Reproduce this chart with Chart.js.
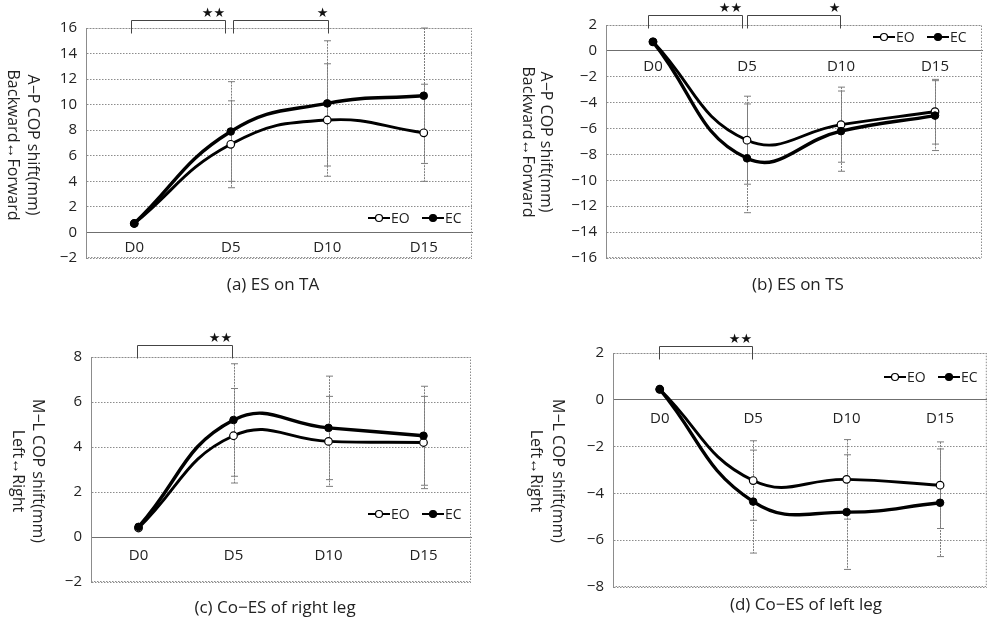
<!DOCTYPE html>
<html>
<head>
<meta charset="utf-8">
<script src="https://cdn.jsdelivr.net/npm/chart.js@4.4.0/dist/chart.umd.min.js"></script>
<style>
  body { margin: 0; background: #fff; width: 992px; height: 620px; overflow: hidden; position: relative; }
  canvas { position: absolute; }
</style>
</head>
<body>
<canvas id="cA" width="496" height="300" style="left:0;top:0"></canvas>
<canvas id="cB" width="496" height="300" style="left:496px;top:0"></canvas>
<canvas id="cC" width="496" height="320" style="left:0;top:300px"></canvas>
<canvas id="cD" width="496" height="320" style="left:496px;top:300px"></canvas>
<script>
const days = ['D0', 'D5', 'D10', 'D15'];

// (a) ES on TA
const eoA = [0.7, 6.9, 8.8, 7.8];
const ecA = [0.7, 7.9, 10.1, 10.7];
const eoErrA = [0, 3.4, 4.4, 3.8];
const ecErrA = [0, 3.9, 4.9, 5.3];
const yTicksA = [-2, 0, 2, 4, 6, 8, 10, 12, 14, 16];

// (b) ES on TS
const eoB = [0.7, -6.9, -5.7, -4.7];
const ecB = [0.7, -8.3, -6.2, -5.0];
const eoErrB = [0, 3.4, 2.9, 2.5];
const ecErrB = [0, 4.2, 3.1, 2.7];
const yTicksB = [-16, -14, -12, -10, -8, -6, -4, -2, 0, 2];

// (c) Co-ES of right leg
const eoC = [0.4, 4.5, 4.25, 4.2];
const ecC = [0.45, 5.2, 4.85, 4.5];
const eoErrC = [0, 2.1, 2.0, 2.05];
const ecErrC = [0, 2.5, 2.3, 2.2];
const yTicksC = [-2, 0, 2, 4, 6, 8];

// (d) Co-ES of left leg
const eoD = [0.45, -3.45, -3.4, -3.65];
const ecD = [0.45, -4.35, -4.8, -4.4];
const eoErrD = [0, 1.7, 1.7, 1.85];
const ecErrD = [0, 2.2, 2.45, 2.3];
const yTicksD = [-8, -6, -4, -2, 0, 2];

const FONT = '"Open Sans", "Noto Sans", sans-serif';
const GRID = '#8c8c8c';

const extras = {
  id: 'extras',
  beforeDraw(chart) {
    const ctx = chart.ctx;
    ctx.save();
    ctx.fillStyle = '#fff';
    ctx.fillRect(0, 0, chart.width, chart.height);
    ctx.restore();
  },
  beforeDatasetsDraw(chart) {
    const { ctx, chartArea: a, scales: { x, y } } = chart;
    ctx.save();
    ctx.strokeStyle = GRID;
    ctx.lineWidth = 1;
    ctx.setLineDash([1.5, 1.5]);
    ctx.strokeRect(a.left + 0.5, a.top + 0.5, a.width - 1, a.height - 1);
    ctx.strokeStyle = '#7d7d7d';
    chart.data.datasets.forEach(ds => {
      ds.errors.forEach((e, i) => {
        if (!e) return;
        const px = Math.round(x.getPixelForValue(i)) + 0.5;
        const hi = y.getPixelForValue(ds.data[i] + e);
        const lo = y.getPixelForValue(ds.data[i] - e);
        ctx.setLineDash([2, 1]);
        ctx.beginPath();
        ctx.moveTo(px, hi); ctx.lineTo(px, lo);
        ctx.stroke();
        ctx.setLineDash([]);
        ctx.beginPath();
        ctx.moveTo(px - 3.5, hi); ctx.lineTo(px + 3.5, hi);
        ctx.moveTo(px - 3.5, lo); ctx.lineTo(px + 3.5, lo);
        ctx.stroke();
      });
    });
    ctx.restore();
  },
  afterDraw(chart, args, o) {
    const { ctx, scales: { x } } = chart;
    ctx.save();
    ctx.fillStyle = '#222';

    // panel caption
    ctx.font = '17px ' + FONT;
    ctx.textAlign = 'center';
    ctx.textBaseline = 'middle';
    ctx.fillText(o.caption, o.captionX, o.captionY);

    // y axis title, two lines turned clockwise
    ctx.font = '16px ' + FONT;
    o.yTitle.forEach((t, i) => {
      ctx.save();
      ctx.translate(o.yTitleX[i], o.yTitleY);
      ctx.rotate(Math.PI / 2);
      ctx.fillText(t, 0, 0);
      ctx.restore();
    });

    // legend
    const lx = o.legendX, ly = o.legendY;
    ctx.font = '14px ' + FONT;
    ctx.textAlign = 'left';
    [['EO', '#fff', 0], ['EC', '#000', 54]].forEach(([name, fill, dx]) => {
      ctx.strokeStyle = '#000';
      ctx.lineWidth = 2;
      ctx.beginPath();
      ctx.moveTo(lx + dx, ly); ctx.lineTo(lx + dx + 22, ly);
      ctx.stroke();
      ctx.beginPath();
      ctx.arc(lx + dx + 11, ly, 3.5, 0, Math.PI * 2);
      ctx.fillStyle = fill;
      ctx.fill();
      ctx.lineWidth = 1.2;
      ctx.stroke();
      ctx.fillStyle = '#222';
      ctx.fillText(name, lx + dx + 23, ly + 1);
    });

    // significance brackets
    ctx.strokeStyle = '#444';
    ctx.lineWidth = 1;
    ctx.font = '13px "DejaVu Sans", sans-serif';
    ctx.textAlign = 'center';
    o.brackets.forEach(b => {
      const x0 = Math.round(x.getPixelForValue(b.from) + b.dx0) + 0.5;
      const x1 = Math.round(x.getPixelForValue(b.to) + b.dx1) + 0.5;
      const top = o.bracketTop + 0.5, bot = top + 13;
      ctx.beginPath();
      ctx.moveTo(x0, bot); ctx.lineTo(x0, top); ctx.lineTo(x1, top); ctx.lineTo(x1, bot);
      ctx.stroke();
      ctx.fillStyle = '#111';
      ctx.fillText(b.stars, x1 - 6 * b.stars.length, top - 7);
    });
    ctx.restore();
  }
};

function makeChart(id, eo, ec, eoErr, ecErr, ticks, area, xPad, extra) {
  const canvas = document.getElementById(id);
  return new Chart(canvas, {
    type: 'line',
    data: {
      labels: days,
      datasets: [
        {
          label: 'EC', data: ec, errors: ecErr, order: 0,
          borderColor: '#000', borderWidth: 3.4, backgroundColor: '#000',
          pointRadius: 3.8, pointBorderWidth: 1, pointBackgroundColor: '#000',
          tension: 0.45
        },
        {
          label: 'EO', data: eo, errors: eoErr, order: 1,
          borderColor: '#000', borderWidth: 2.9, backgroundColor: '#fff',
          pointRadius: 3.8, pointBorderWidth: 1.2, pointBackgroundColor: '#fff',
          tension: 0.45
        }
      ]
    },
    options: {
      responsive: false,
      animation: false,
      layout: {
        padding: {
          left: 0,
          top: area.top,
          right: canvas.width - area.right,
          bottom: canvas.height - area.bottom
        }
      },
      scales: {
        x: {
          type: 'category',
          offset: true,
          position: { y: 0 },
          grid: { display: false, drawTicks: false },
          border: { display: true, color: '#6f6f6f', dash: [2, 1] },
          ticks: { color: '#222', font: { family: FONT, size: 15 }, padding: xPad, maxRotation: 0 }
        },
        y: {
          min: ticks[0],
          max: ticks[ticks.length - 1],
          afterFit: s => { s.width = area.left; },
          afterBuildTicks: s => { s.ticks = ticks.map(v => ({ value: v })); },
          grid: { color: GRID, drawTicks: false, lineWidth: 1 },
          border: { display: true, color: GRID, dash: [1.5, 1.5] },
          ticks: {
            color: '#222', font: { family: FONT, size: 15 }, padding: 9,
            callback: v => String(v).replace('-', '\u2212')
          }
        }
      },
      plugins: {
        legend: { display: false },
        tooltip: { enabled: false },
        extras: extra
      }
    },
    plugins: [extras]
  });
}

makeChart('cA', eoA, ecA, eoErrA, ecErrA, yTicksA,
  { left: 86, top: 28, right: 472, bottom: 258 }, 6, {
    caption: '(a) ES on TA', captionX: 273, captionY: 285,
    yTitle: ['A\u2212P COP shift(mm)', 'Backward\u2194Forward'], yTitleX: [33, 13], yTitleY: 145,
    legendX: 368, legendY: 218,
    bracketTop: 20,
    brackets: [
      { from: 0, to: 1, dx0: -3, dx1: -6, stars: '\u2605\u2605' },
      { from: 1, to: 2, dx0: 2, dx1: 1, stars: '\u2605' }
    ]
  });

makeChart('cB', eoB, ecB, eoErrB, ecErrB, yTicksB,
  { left: 110, top: 25, right: 486, bottom: 258 }, 7, {
    caption: '(b) ES on TS', captionX: 302, captionY: 285,
    yTitle: ['A\u2212P COP shift(mm)', 'Backward\u2194Forward'], yTitleX: [50, 32], yTitleY: 142,
    legendX: 377, legendY: 37,
    bracketTop: 15,
    brackets: [
      { from: 0, to: 1, dx0: -5, dx1: -5, stars: '\u2605\u2605' },
      { from: 1, to: 2, dx0: 0, dx1: -1, stars: '\u2605' }
    ]
  });

makeChart('cC', eoC, ecC, eoErrC, ecErrC, yTicksC,
  { left: 91, top: 57, right: 471, bottom: 282 }, 10, {
    caption: '(c) Co\u2212ES of right leg', captionX: 275, captionY: 308,
    yTitle: ['M\u2212L COP shift(mm)', 'Left\u2194Right'], yTitleX: [38, 18], yTitleY: 171,
    legendX: 368, legendY: 214,
    bracketTop: 45,
    brackets: [
      { from: 0, to: 1, dx0: -1.5, dx1: -1.5, stars: '\u2605\u2605' }
    ]
  });

makeChart('cD', eoD, ecD, eoErrD, ecErrD, yTicksD,
  { left: 117, top: 53, right: 495, bottom: 287 }, 10, {
    caption: '(d) Co\u2212ES of left leg', captionX: 310, captionY: 305,
    yTitle: ['M\u2212L COP shift(mm)', 'Left\u2194Right'], yTitleX: [62, 40], yTitleY: 171,
    legendX: 388, legendY: 77,
    bracketTop: 46,
    brackets: [
      { from: 0, to: 1, dx0: -1, dx1: -1, stars: '\u2605\u2605' }
    ]
  });
</script>
</body>
</html>
